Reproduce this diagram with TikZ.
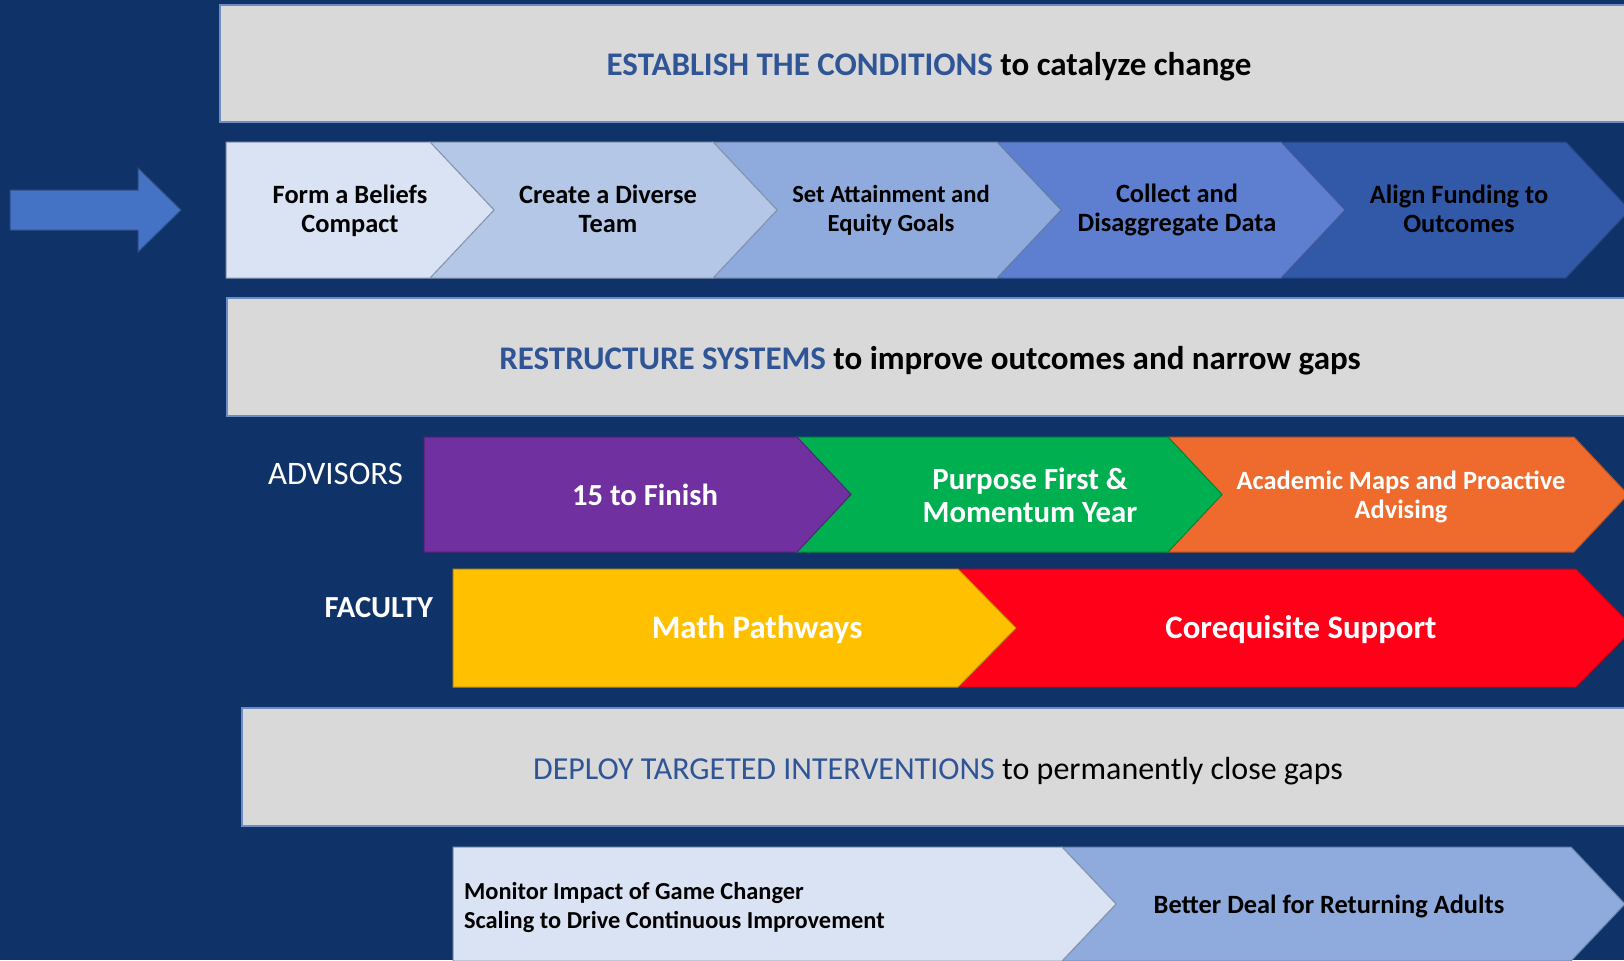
\documentclass[tikz,border=0pt]{standalone}
\usepackage{fontspec}
\setmainfont{Carlito}
\usepackage{xcolor}
\usetikzlibrary{positioning,calc}

\definecolor{navy}{HTML}{0F3369}
\definecolor{bandgray}{HTML}{D9D9D9}
\definecolor{bandline}{HTML}{6C8CC4}
\definecolor{headblue}{HTML}{2F5597}
\definecolor{arrowblue}{HTML}{4472C4}
\definecolor{stepA}{HTML}{DAE3F3}
\definecolor{stepB}{HTML}{B4C7E7}
\definecolor{stepC}{HTML}{8FAADC}
\definecolor{stepD}{HTML}{5E7FD0}
\definecolor{stepE}{HTML}{3159A8}
\definecolor{advpurple}{HTML}{7030A0}
\definecolor{advgreen}{HTML}{00B050}
\definecolor{advorange}{HTML}{EE6B2D}
\definecolor{facyellow}{HTML}{FFC000}
\definecolor{facred}{HTML}{FF0018}

% chevron: [style] {left x}{body right x}{top y}{bottom y}{notched: 1/0}
\newcommand{\chevdepth}{64}
\newcommand{\chev}[6][]{%
  \pgfmathsetmacro{\cmid}{(#4+#5)/2}%
  \ifnum#6=1
    \filldraw[#1] (#2,#4) -- (#3,#4) -- ({#3+\chevdepth},\cmid) -- (#3,#5) -- (#2,#5) -- ({#2+\chevdepth},\cmid) -- cycle;
  \else
    \filldraw[#1] (#2,#4) -- (#3,#4) -- ({#3+\chevdepth},\cmid) -- (#3,#5) -- (#2,#5) -- cycle;
  \fi}

\tikzset{
  band/.style={fill=bandgray, draw=bandline, line width=1pt},
  edge/.style={draw=#1!75!black, line width=0.5pt},
  steptext/.style={font=\bfseries\fontsize{13.2}{14.5}\selectfont, align=center, text=black},
  heading/.style={font=\bfseries\fontsize{16.5}{19}\selectfont, text=black},
  whitetext/.style={font=\bfseries\fontsize{15.3}{16.5}\selectfont, align=center, text=white},
  rolelabel/.style={font=\fontsize{16.4}{18}\selectfont, text=white, anchor=east}
}

\begin{document}
\begin{tikzpicture}[x=0.5pt,y=-0.5pt]
\useasboundingbox (0,0) rectangle (1624,960);
\fill[navy] (0,0) rectangle (1624,960);

% Establish the conditions
\draw[band] (220,5) rectangle (1640,122);
\node[heading] (establish) at (929,67) {\textcolor{headblue}{ESTABLISH THE CONDITIONS} to catalyze change};

% entry arrow
\filldraw[fill=arrowblue, draw=arrowblue!70!black, line width=0.5pt]
  (10,190) -- (138,190) -- (138,168) -- (181,210) -- (138,252) -- (138,230) -- (10,230) -- cycle;

% first row of steps
\renewcommand{\chevdepth}{64}
\chev[fill=stepE, edge=stepE]{1281}{1566}{142}{278}{1}
\chev[fill=stepD, edge=stepD]{997}{1281}{142}{278}{1}
\chev[fill=stepC, edge=stepC]{713}{997}{142}{278}{1}
\chev[fill=stepB, edge=stepB]{430}{713}{142}{278}{1}
\chev[fill=stepA, edge=stepB]{226}{430}{142}{278}{0}
\node[steptext] (beliefs) at (350,211) {Form a Beliefs\\Compact};
\node[steptext] (team) at (608,209) {Create a Diverse\\Team};
\node[steptext, font=\bfseries\fontsize{12.3}{14.5}\selectfont] (goals) at (891,210) {Set Attainment and\\Equity Goals};
\node[steptext] (data) at (1177,210) {Collect and\\Disaggregate Data};
\node[steptext] (funding) at (1459,209) {Align Funding to\\Outcomes};

% Restructure systems
\draw[band] (227,298) rectangle (1640,416);
\node[heading] (restructure) at (930,361) {\textcolor{headblue}{RESTRUCTURE SYSTEMS} to improve outcomes and narrow gaps};

% advisors
\renewcommand{\chevdepth}{54}
\chev[fill=advorange, edge=advorange]{1168}{1574}{437}{552}{1}
\chev[fill=advgreen, edge=advgreen]{797}{1168}{437}{552}{1}
\chev[fill=advpurple, edge=advpurple]{424}{797}{437}{552}{0}
\node[rolelabel] (advisors) at (410,474) {ADVISORS};
\node[whitetext] (finish) at (645,495) {15 to Finish};
\node[whitetext, font=\bfseries\fontsize{15.4}{16.5}\selectfont] (purpose) at (1030,495) {Purpose First \&\\Momentum Year};
\node[whitetext, font=\bfseries\fontsize{13.2}{14.5}\selectfont] (maps) at (1401,497) {Academic Maps and Proactive\\Advising};

% faculty
\renewcommand{\chevdepth}{58}
\chev[fill=facred, edge=facred]{958}{1576}{569}{687}{1}
\chev[fill=facyellow, edge=facyellow]{453}{958}{569}{687}{0}
\node[rolelabel, font=\bfseries\fontsize{15.3}{17}\selectfont] (faculty) at (440,608) {FACULTY};
\node[whitetext, font=\bfseries\fontsize{16.4}{18}\selectfont] (pathways) at (757,630) {Math Pathways};
\node[whitetext, font=\bfseries\fontsize{16.4}{18}\selectfont] (coreq) at (1301,630) {Corequisite Support};

% Deploy targeted interventions
\draw[band] (242,708) rectangle (1640,826);
\node[heading, font=\fontsize{16}{19}\selectfont] (deploy) at (938,771) {\textcolor{headblue}{DEPLOY TARGETED INTERVENTIONS} to permanently close gaps};

% last row
\renewcommand{\chevdepth}{54}
\chev[fill=stepC, edge=stepC]{1062}{1571}{847}{961}{1}
\chev[fill=stepA, edge=stepB]{453}{1062}{847}{961}{0}
\node[steptext, font=\bfseries\fontsize{12.2}{14.5}\selectfont, align=left, anchor=west] (monitor) at (457,907) {Monitor Impact of Game Changer\\Scaling to Drive Continuous Improvement};
\node[steptext, font=\bfseries\fontsize{13.2}{14.5}\selectfont] (adults) at (1329,906) {Better Deal for Returning Adults};
\end{tikzpicture}
\end{document}
